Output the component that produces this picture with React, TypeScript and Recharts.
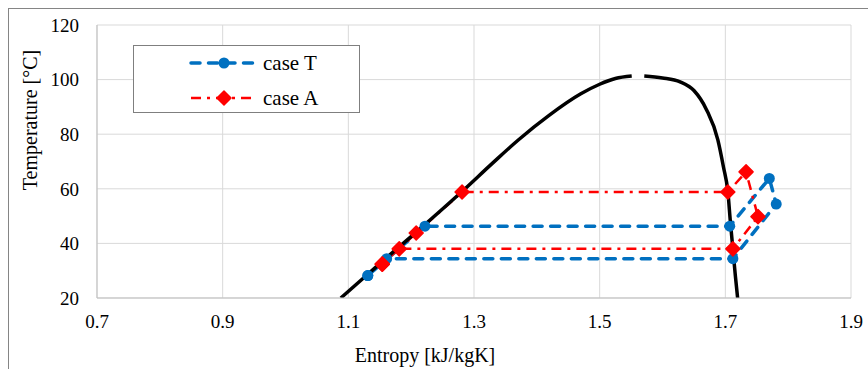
import React from 'react';
import { LineChart, Line, XAxis, YAxis, CartesianGrid } from 'recharts';

const xTicks = [0.7, 0.9, 1.1, 1.3, 1.5, 1.7, 1.9];
const yTicks = [20, 40, 60, 80, 100, 120];

// saturation dome, split at the top where the reference has a small gap
const domeLeftS = [1.088, 1.13, 1.16, 1.21, 1.28, 1.33, 1.37, 1.42, 1.47, 1.5, 1.525, 1.551];
const domeLeftT = [20, 28.5, 34.6, 44.5, 58.8, 69.5, 77.8, 87, 94.8, 98.3, 100.4, 101.3];
const domeRightS = [1.571, 1.6, 1.628, 1.65, 1.67, 1.688, 1.697, 1.704, 1.708, 1.712, 1.716, 1.72];
const domeRightT = [101.3, 100.6, 99.2, 96, 89, 78, 68, 59, 48, 38, 28, 19];

// cycle paths
const caseTS = [1.131, 1.161, 1.712, 1.781, 1.77, 1.707, 1.222, 1.131];
const caseTT = [28.2, 34.4, 34.4, 54.4, 63.8, 46.3, 46.3, 28.2];
const caseAS = [1.154, 1.181, 1.712, 1.752, 1.733, 1.704, 1.281, 1.208, 1.154];
const caseAT = [32.4, 38, 38, 49.8, 66.2, 58.8, 58.8, 43.8, 32.4];

const BLUE = '#0070C0';
const RED = '#FF0000';
const FONT = '"Liberation Serif", "Times New Roman", serif';

const zip = (s: number[], t: number[]) => s.map((v, i) => ({ s: v, T: t[i] }));

const domeLeft = zip(domeLeftS, domeLeftT);
const domeRight = zip(domeRightS, domeRightT);
const caseT = zip(caseTS, caseTT);
const caseA = zip(caseAS, caseAT);

const blueDot = (props: any) => {
  const { cx, cy, index } = props;
  if (cx == null || cy == null) return null;
  return <circle key={`b-${index}`} cx={cx} cy={cy} r={5.5} fill={BLUE} />;
};

const diamondPoints = (cx: number, cy: number, r: number) =>
  `${cx},${cy - r} ${cx + r},${cy} ${cx},${cy + r} ${cx - r},${cy}`;

const redDot = (props: any) => {
  const { cx, cy, index } = props;
  if (cx == null || cy == null) return null;
  return (
    <polygon
      key={`r-${index}`}
      points={diamondPoints(cx, cy, 7)}
      fill={RED}
      stroke={RED}
      strokeWidth={1.5}
      strokeLinejoin="round"
    />
  );
};

// legend box drawn over the plot, like the one in the reference
const ChartLegend = () => (
  <div
    style={{
      position: 'absolute',
      left: 133,
      top: 45,
      width: 227,
      height: 68,
      boxSizing: 'border-box',
      border: '1px solid #7f7f7f',
      background: '#fff',
      fontFamily: FONT,
      fontSize: 21,
      color: '#000',
    }}
  >
    <svg width={80} height={68} style={{ position: 'absolute', left: 50, top: 0 }}>
      <line x1={7} y1={17} x2={70} y2={17} stroke={BLUE} strokeWidth={3.5} strokeDasharray="9 8.5" strokeLinecap="round" />
      <circle cx={40} cy={17} r={5.5} fill={BLUE} />
      <line x1={7} y1={52} x2={70} y2={52} stroke={RED} strokeWidth={2.5} strokeDasharray="10 6 3 6" />
      <polygon points={diamondPoints(40, 52, 7)} fill={RED} stroke={RED} strokeWidth={1.5} strokeLinejoin="round" />
    </svg>
    <span style={{ position: 'absolute', left: 129, top: 17, transform: 'translateY(-50%)', lineHeight: 1 }}>case T</span>
    <span style={{ position: 'absolute', left: 129, top: 52, transform: 'translateY(-50%)', lineHeight: 1 }}>case A</span>
  </div>
);

const xTitle = () => (
  <text x={425} y={362} textAnchor="middle" fontFamily={FONT} fontSize={20} fill="#000">
    Entropy [kJ/kgK]
  </text>
);

const yTitle = () => (
  <text
    x={0}
    y={0}
    transform="translate(32,120) rotate(-90)"
    textAnchor="middle"
    dominantBaseline="middle"
    fontFamily={FONT}
    fontSize={20}
    fill="#000"
  >
    Temperature [°C]
  </text>
);

export default function App() {
  return (
    <div style={{ position: 'relative', width: 868, height: 369, overflow: 'hidden', background: '#fff' }}>
      <style>{'html,body{margin:0;padding:0;overflow:hidden;background:#fff}'}</style>
      <div
        style={{
          position: 'absolute',
          left: 8,
          top: 8,
          width: 900,
          height: 400,
          borderLeft: '1px solid #858585',
          borderTop: '1px solid #858585',
        }}
      />
      <div style={{ position: 'absolute', left: 0, top: 0 }}>
        <LineChart width={868} height={369} margin={{ top: 25, right: 17, bottom: 21, left: 37 }}>
          <CartesianGrid stroke="#d9d9d9" strokeWidth={1} />
          <XAxis
            type="number"
            dataKey="s"
            domain={[0.7, 1.9]}
            ticks={xTicks}
            allowDataOverflow
            tickFormatter={(v: number) => v.toFixed(1)}
            tickLine={false}
            tickSize={0}
            tickMargin={17}
            axisLine={{ stroke: '#bfbfbf' }}
            height={50}
            tick={{ fontFamily: FONT, fontSize: 19, fill: '#000' }}
            label={{ content: xTitle }}
          />
          <YAxis
            type="number"
            dataKey="T"
            domain={[20, 120]}
            ticks={yTicks}
            allowDataOverflow
            tickLine={false}
            tickSize={0}
            tickMargin={18}
            axisLine={{ stroke: '#bfbfbf' }}
            width={60}
            tick={{ fontFamily: FONT, fontSize: 19, fill: '#000' }}
            label={{ content: yTitle }}
          />
          <Line
            data={caseT}
            dataKey="T"
            name="case T"
            type="linear"
            stroke={BLUE}
            strokeWidth={3.5}
            strokeDasharray="9 8.5"
            strokeLinecap="round"
            dot={blueDot}
            activeDot={false}
            isAnimationActive={false}
          />
          <Line
            data={caseA}
            dataKey="T"
            name="case A"
            type="linear"
            stroke={RED}
            strokeWidth={2.5}
            strokeDasharray="10 6 3 6"
            dot={redDot}
            activeDot={false}
            isAnimationActive={false}
          />
          <Line
            data={domeLeft}
            dataKey="T"
            type="monotone"
            stroke="#000"
            strokeWidth={3.5}
            dot={false}
            activeDot={false}
            isAnimationActive={false}
          />
          <Line
            data={domeRight}
            dataKey="T"
            type="monotone"
            stroke="#000"
            strokeWidth={3.5}
            dot={false}
            activeDot={false}
            isAnimationActive={false}
          />
        </LineChart>
      </div>
      <ChartLegend />
    </div>
  );
}
